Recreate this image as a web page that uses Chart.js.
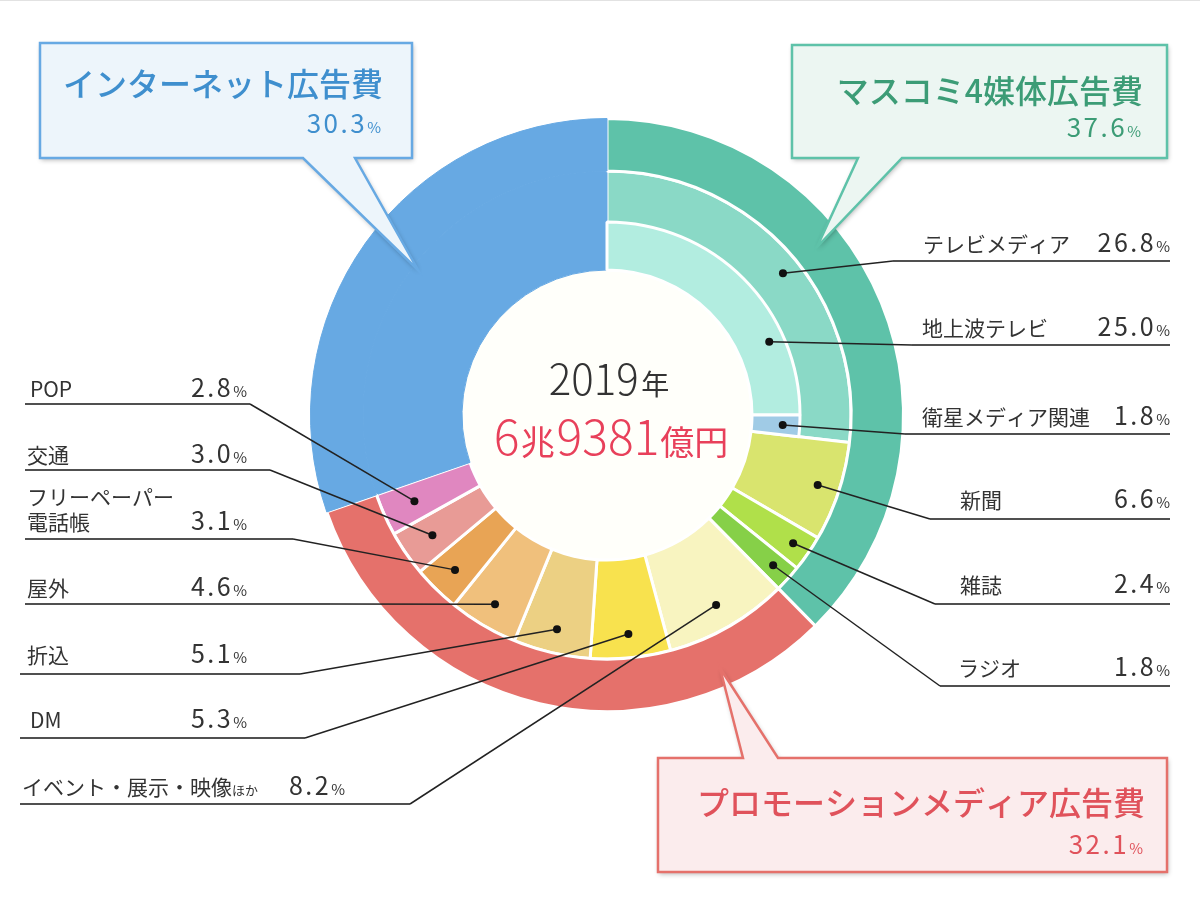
<!DOCTYPE html>
<html lang="ja">
<head>
<meta charset="utf-8">
<title>2019年 媒体別広告費</title>
<script src="https://cdn.jsdelivr.net/npm/chart.js@4.4.1/dist/chart.umd.min.js"></script>
<style>
html, body { margin: 0; padding: 0; background: #fff; }
#wrap { position: relative; width: 1200px; height: 905px; }
#wrap canvas { position: absolute; left: 0; top: 0; }
#topline { position: absolute; left: 0; top: 0; width: 1200px; height: 1px; background: #e2e2e2; }
</style>
</head>
<body>
<div id="wrap">
	<canvas id="base" width="1200" height="905"></canvas>
	<canvas id="tv" width="1200" height="905"></canvas>
	<div id="topline"></div>
</div>
<script>
// 大分類（外側の輪）
var groupNames = ["マスコミ4媒体広告費", "プロモーションメディア広告費", "インターネット広告費"];
var groupValues = [37.6, 32.1, 30.3];

// 細目（内側の輪）
var mediaNames = ["テレビメディア", "新聞", "雑誌", "ラジオ", "イベント・展示・映像ほか", "DM", "折込", "屋外", "フリーペーパー\n電話帳", "交通", "POP", "インターネット広告費"];
var mediaValues = [26.8, 6.6, 2.4, 1.8, 8.2, 5.3, 5.1, 4.6, 3.1, 3.0, 2.8, 30.3];

// テレビメディアの内訳
var tvNames = ["地上波テレビ", "衛星メディア関連"];
var tvValues = [25.0, 1.8];

var yearText = "2019";
var totalParts = ["6", "兆", "9381", "億円"];

var groupColors = ["#5ec2a9", "#e5716b", "#67a9e3"];
var groupText = ["#3c9c76", "#e0525b", "#3f8fce"];
var groupFill = ["#ecf6f2", "#fbeced", "#edf5fb"];
var mediaColors = ["#8ad9c6", "#d9e46e", "#b0e04a", "#86d048", "#f8f4c0", "#f8e24e", "#ecd083", "#f0c07c", "#e8a455", "#e89b96", "#e087c0", "#67a9e3"];
var tvColors = ["#b2ede0", "#a0cbe6"];

var FONT = '"Noto Sans CJK JP", "Noto Sans", sans-serif';
var OUTER = 298, INNER = 145, TV_OUTER = 193;
var PAD = {left: 309, right: 295, top: 117, bottom: 192};

// white borders except on the internet wedge, which runs through both rings
function borders(colors, n) {
	return colors.map(function(c, i) { return i == n ? c : "#ffffff"; });
}
function widths(colors, n) {
	return colors.map(function(c, i) { return i == n ? 1 : 3; });
}

var centerFill = {
	id: 'centerFill',
	beforeDatasetsDraw: function(chart) {
		var a = chart.getDatasetMeta(0).data[0];
		var ctx = chart.ctx;
		ctx.save();
		ctx.fillStyle = "#fffffa";
		ctx.beginPath();
		ctx.arc(a.x, a.y, INNER, 0, Math.PI * 2);
		ctx.fill();
		ctx.restore();
	}
};

var baseChart = new Chart(document.getElementById('base'), {
	type: 'doughnut',
	data: {
		labels: mediaNames,
		datasets: [
			{
				label: '大分類',
				data: groupValues,
				backgroundColor: groupColors,
				borderColor: borders(groupColors, 2),
				borderWidth: widths(groupColors, 2),
				weight: OUTER - 245
			},
			{
				label: '細目',
				data: mediaValues,
				backgroundColor: mediaColors,
				borderColor: borders(mediaColors, 11),
				borderWidth: widths(mediaColors, 11),
				weight: 245 - INNER
			}
		]
	},
	options: {
		responsive: false,
		animation: false,
		events: [],
		cutout: INNER,
		layout: { padding: PAD },
		plugins: { legend: { display: false }, tooltip: { enabled: false } }
	},
	plugins: [centerFill]
});

// ---- labels ----
var rightLabels = [
	{ring: 'media', idx: 0, t: 0.53, r: 226, x: 923, y: 252, lineY: 261, lineX: 893},
	{ring: 'tv', idx: 0, t: 0.73, r: 178, x: 922, y: 336, lineY: 345, lineX: 912},
	{ring: 'tv', idx: 1, t: 0.5, r: 176, x: 922, y: 425, lineY: 434, lineX: 905},
	{ring: 'media', idx: 1, t: 0.5, r: 222, x: 960, y: 508, lineY: 519, lineX: 930},
	{ring: 'media', idx: 2, t: 0.5, r: 226, x: 960, y: 593, lineY: 604, lineX: 935},
	{ring: 'media', idx: 3, t: 0.5, r: 224, x: 958, y: 676, lineY: 686, lineX: 940}
];
var leftLabels = [
	{idx: 10, r: 211, x: 30, y: 397, lineY: 404, x0: 25, x1: 250, valX: 247},
	{idx: 9, r: 212, x: 27, y: 463, lineY: 470, x0: 25, x1: 270, valX: 247},
	{idx: 8, r: 217, x: 27, y: 530, lineY: 539, x0: 25, x1: 293, valX: 247},
	{idx: 7, r: 220, x: 27, y: 596, lineY: 604, x0: 25, x1: 330, valX: 247},
	{idx: 6, r: 220, x: 27, y: 663, lineY: 674, x0: 20, x1: 300, valX: 247},
	{idx: 5, r: 220, x: 30, y: 728, lineY: 738, x0: 20, x1: 305, valX: 247},
	{idx: 4, r: 219, x: 22, y: 795, lineY: 804, x0: 20, x1: 410, valX: 345}
];

function arcPoint(arc, t, r) {
	var p = arc.getProps(['x', 'y', 'startAngle', 'endAngle'], true);
	var a = p.startAngle + t * (p.endAngle - p.startAngle);
	return {x: p.x + r * Math.cos(a), y: p.y + r * Math.sin(a)};
}

// draws a list of [text, font, letterSpacing] pieces, left or right aligned
function drawPieces(ctx, pieces, x, y, align) {
	var total = 0, w = [];
	pieces.forEach(function(p) {
		ctx.font = p[1];
		ctx.letterSpacing = (p[2] || 0) + 'px';
		var m = ctx.measureText(p[0]).width;
		w.push(m);
		total += m;
	});
	var cx = align == 'right' ? x - total : (align == 'center' ? x - total / 2 : x);
	pieces.forEach(function(p, i) {
		ctx.font = p[1];
		ctx.letterSpacing = (p[2] || 0) + 'px';
		ctx.fillText(p[0], cx, y);
		cx += w[i];
	});
	ctx.letterSpacing = '0px';
}

function valuePieces(v, size) {
	return [[v.toFixed(1), (size || 25) + 'px ' + FONT, 2.5], ['%', '15px ' + FONT, 0]];
}

function drawName(ctx, name, x, y) {
	var lines = name.split('\n');
	lines.forEach(function(line, k) {
		var yy = y - (lines.length - 1 - k) * 25;
		var pieces;
		if (line.slice(-2) == 'ほか') {
			pieces = [[line.slice(0, -2), '21px ' + FONT], ['ほか', '13px ' + FONT]];
		} else {
			pieces = [[line, '21px ' + FONT]];
		}
		drawPieces(ctx, pieces, x, yy, 'left');
	});
}

function dot(ctx, p) {
	ctx.beginPath();
	ctx.arc(p.x, p.y, 4, 0, Math.PI * 2);
	ctx.fill();
}

function callout(ctx, box, base, tip, side, fill, stroke) {
	ctx.save();
	ctx.beginPath();
	if (side == 'bottom') {
		ctx.moveTo(box[0], box[1]);
		ctx.lineTo(box[2], box[1]);
		ctx.lineTo(box[2], box[3]);
		ctx.lineTo(base[1], box[3]);
		ctx.lineTo(tip[0], tip[1]);
		ctx.lineTo(base[0], box[3]);
		ctx.lineTo(box[0], box[3]);
	} else {
		ctx.moveTo(box[0], box[1]);
		ctx.lineTo(base[0], box[1]);
		ctx.lineTo(tip[0], tip[1]);
		ctx.lineTo(base[1], box[1]);
		ctx.lineTo(box[2], box[1]);
		ctx.lineTo(box[2], box[3]);
		ctx.lineTo(box[0], box[3]);
	}
	ctx.closePath();
	ctx.shadowColor = 'rgba(0,0,0,0.3)';
	ctx.shadowBlur = 5;
	ctx.shadowOffsetX = 1;
	ctx.shadowOffsetY = 2;
	ctx.fillStyle = fill;
	ctx.fill();
	ctx.shadowColor = 'rgba(0,0,0,0)';
	ctx.lineWidth = 2.5;
	ctx.lineJoin = 'miter';
	ctx.strokeStyle = stroke;
	ctx.stroke();
	ctx.restore();
}

var annotations = {
	id: 'annotations',
	afterDraw: function(chart) {
		var ctx = chart.ctx;
		var mediaMeta = baseChart.getDatasetMeta(1);
		var tvMeta = chart.getDatasetMeta(0);
		ctx.save();
		ctx.textBaseline = 'alphabetic';

		// right side
		rightLabels.forEach(function(l) {
			var arc = l.ring == 'tv' ? tvMeta.data[l.idx] : mediaMeta.data[l.idx];
			var name = l.ring == 'tv' ? tvNames[l.idx] : mediaNames[l.idx];
			var val = l.ring == 'tv' ? tvValues[l.idx] : mediaValues[l.idx];
			var p = arcPoint(arc, l.t, l.r);
			ctx.strokeStyle = '#505050';
			ctx.lineWidth = 2;
			ctx.beginPath();
			ctx.moveTo(l.lineX, l.lineY);
			ctx.lineTo(1170, l.lineY);
			ctx.stroke();
			ctx.strokeStyle = '#222';
			ctx.lineWidth = 1.5;
			ctx.beginPath();
			ctx.moveTo(p.x, p.y);
			ctx.lineTo(l.lineX, l.lineY);
			ctx.stroke();
			ctx.fillStyle = '#111';
			dot(ctx, p);
			ctx.fillStyle = '#333';
			drawName(ctx, name, l.x, l.y);
			drawPieces(ctx, valuePieces(val), 1170, l.y, 'right');
		});

		// left side
		leftLabels.forEach(function(l) {
			var p = arcPoint(mediaMeta.data[l.idx], 0.5, l.r);
			ctx.strokeStyle = '#505050';
			ctx.lineWidth = 2;
			ctx.beginPath();
			ctx.moveTo(l.x0, l.lineY);
			ctx.lineTo(l.x1, l.lineY);
			ctx.stroke();
			ctx.strokeStyle = '#222';
			ctx.lineWidth = 1.5;
			ctx.beginPath();
			ctx.moveTo(l.x1, l.lineY);
			ctx.lineTo(p.x, p.y);
			ctx.stroke();
			ctx.fillStyle = '#111';
			dot(ctx, p);
			ctx.fillStyle = '#333';
			drawName(ctx, mediaNames[l.idx], l.x, l.y);
			drawPieces(ctx, valuePieces(mediaValues[l.idx]), l.valX, l.y, 'right');
		});

		// center total
		var c = tvMeta.data[0];
		ctx.fillStyle = '#333';
		drawPieces(ctx, [[yearText, '300 42px ' + FONT, 0], [' ', '12px ' + FONT], ['年', '28px ' + FONT]], c.x + 2, 395, 'center');
		ctx.fillStyle = '#e8405a';
		drawPieces(ctx, [
			[totalParts[0], '300 48px ' + FONT, 0], [' ', '6px ' + FONT], [totalParts[1], '34px ' + FONT, 0],
			[' ', '8px ' + FONT], [totalParts[2], '300 48px ' + FONT, 0], [' ', '4px ' + FONT], [totalParts[3], '34px ' + FONT, 0]
		], c.x + 4, 455, 'center');

		// callouts
		var boxes = [
			{g: 2, box: [40, 43, 412, 158], base: [303, 355], tip: [418, 270], side: 'bottom', tx: 383, ty: 84, vy: 133},
			{g: 0, box: [792, 45, 1167, 158], base: [858, 902], tip: [817, 247], side: 'bottom', tx: 1143, ty: 91, vy: 137},
			{g: 1, box: [658, 758, 1167, 872], base: [743, 778], tip: [720, 668], side: 'top', tx: 1145, ty: 803, vy: 854}
		];
		boxes.forEach(function(b) {
			callout(ctx, b.box, b.base, b.tip, b.side, groupFill[b.g], groupColors[b.g]);
			ctx.fillStyle = groupText[b.g];
			ctx.textBaseline = 'middle';
			drawPieces(ctx, [[groupNames[b.g], '500 32px ' + FONT, 0]], b.tx, b.ty, 'right');
			ctx.textBaseline = 'alphabetic';
			drawPieces(ctx, valuePieces(groupValues[b.g], 26), b.tx - 2, b.vy, 'right');
		});
		ctx.restore();
	}
};

// テレビメディアの内訳は別の輪で重ねる
var tvRest = 100 - tvValues[0] - tvValues[1];
var tvChart = new Chart(document.getElementById('tv'), {
	type: 'doughnut',
	data: {
		labels: tvNames.concat(['']),
		datasets: [{
			label: 'テレビメディア',
			data: tvValues.concat([tvRest]),
			backgroundColor: tvColors.concat(['rgba(0,0,0,0)']),
			borderColor: '#ffffff',
			borderWidth: [3, 3, 0]
		}]
	},
	options: {
		responsive: false,
		animation: false,
		events: [],
		radius: TV_OUTER,
		cutout: (INNER / TV_OUTER * 100) + '%',
		layout: { padding: PAD },
		plugins: { legend: { display: false }, tooltip: { enabled: false } }
	},
	plugins: [annotations]
});
</script>
</body>
</html>
